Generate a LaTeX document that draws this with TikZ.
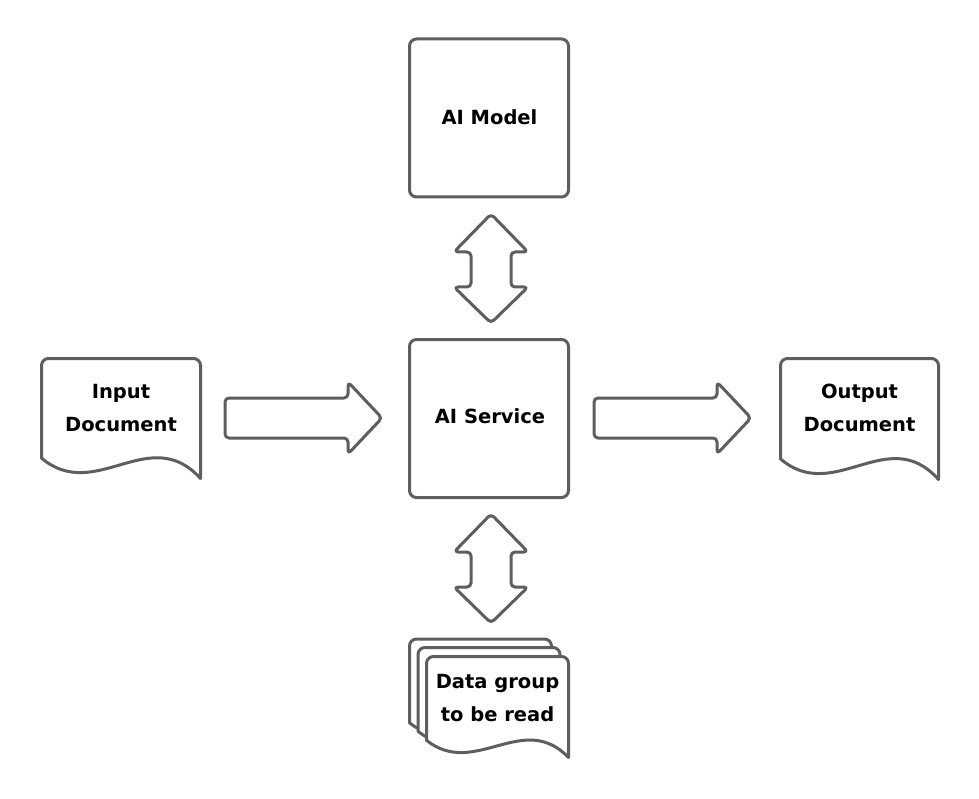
\documentclass[tikz,border=0pt]{standalone}
\usepackage{fontspec}
\setmainfont{DejaVu Sans}
\definecolor{linegray}{RGB}{94,94,94}
\newcommand{\docshape}[4]{%
  \draw[shapeline, fill=white] ({#1},{#2+0.83*#4}) -- ({#1},{#2+7})
    arc[start angle=180, end angle=270, radius=7] -- ({#1+#3-7},{#2})
    arc[start angle=270, end angle=360, radius=7] -- ({#1+#3},{#2+#4})
    .. controls ({#1+0.68*#3},{#2+0.53*#4}) and ({#1+0.34*#3},{#2+1.21*#4}) .. ({#1},{#2+0.83*#4}) -- cycle;}
\tikzset{
  shapeline/.style={draw=linegray, line width=3pt, line join=round},
  lbl/.style={font=\fontsize{19.5}{33}\selectfont\bfseries, align=center, text=black, inner sep=0pt},
  boxnode/.style={shapeline, rounded corners=7pt, minimum width=159pt, minimum height=158pt, inner sep=0pt},
  blockarrow/.style={shapeline, rounded corners=4pt}
}
\begin{document}
\begin{tikzpicture}[x=1pt,y=-1pt]
\useasboundingbox (0,0) rectangle (979,799);
\fill[white] (0,0) rectangle (979,799);

% boxes
\node[boxnode] (model) at (489,118) {};
\node[lbl] (modeltext) at (489.5,117.5) {AI Model};
\node[boxnode] (service) at (489,418.5) {};
\node[lbl] (servicetext) at (490,416) {AI Service};

% documents
\docshape{41.5}{358.5}{159}{120}
\node[lbl] (input) at (121,408) {Input\\Document};
\docshape{780.5}{358.5}{158}{121}
\node[lbl] (output) at (859.5,408) {Output\\Document};

% data group (stack)
\docshape{409.5}{639}{142}{101}
\docshape{418}{647.5}{142}{101}
\docshape{426.5}{656.5}{142}{101}
\node[lbl] (data) at (497.5,698) {Data group\\to be read};

% horizontal block arrows
\draw[blockarrow] (225,398) -- (348,398) -- (348,382) -- (382,418) -- (348,454) -- (348,438) -- (225,438) -- cycle;
\draw[blockarrow] (594,398) -- (717,398) -- (717,382) -- (751,418) -- (717,454) -- (717,438) -- (594,438) -- cycle;

% vertical double arrows
\draw[blockarrow] (491,214) -- (528,252) -- (511,252) -- (511,287) -- (528,287) -- (491,323) -- (454,287) -- (471,287) -- (471,252) -- (454,252) -- cycle;
\draw[blockarrow] (491,514) -- (528,552) -- (511,552) -- (511,587) -- (528,587) -- (491,623) -- (454,587) -- (471,587) -- (471,552) -- (454,552) -- cycle;
\end{tikzpicture}
\end{document}
